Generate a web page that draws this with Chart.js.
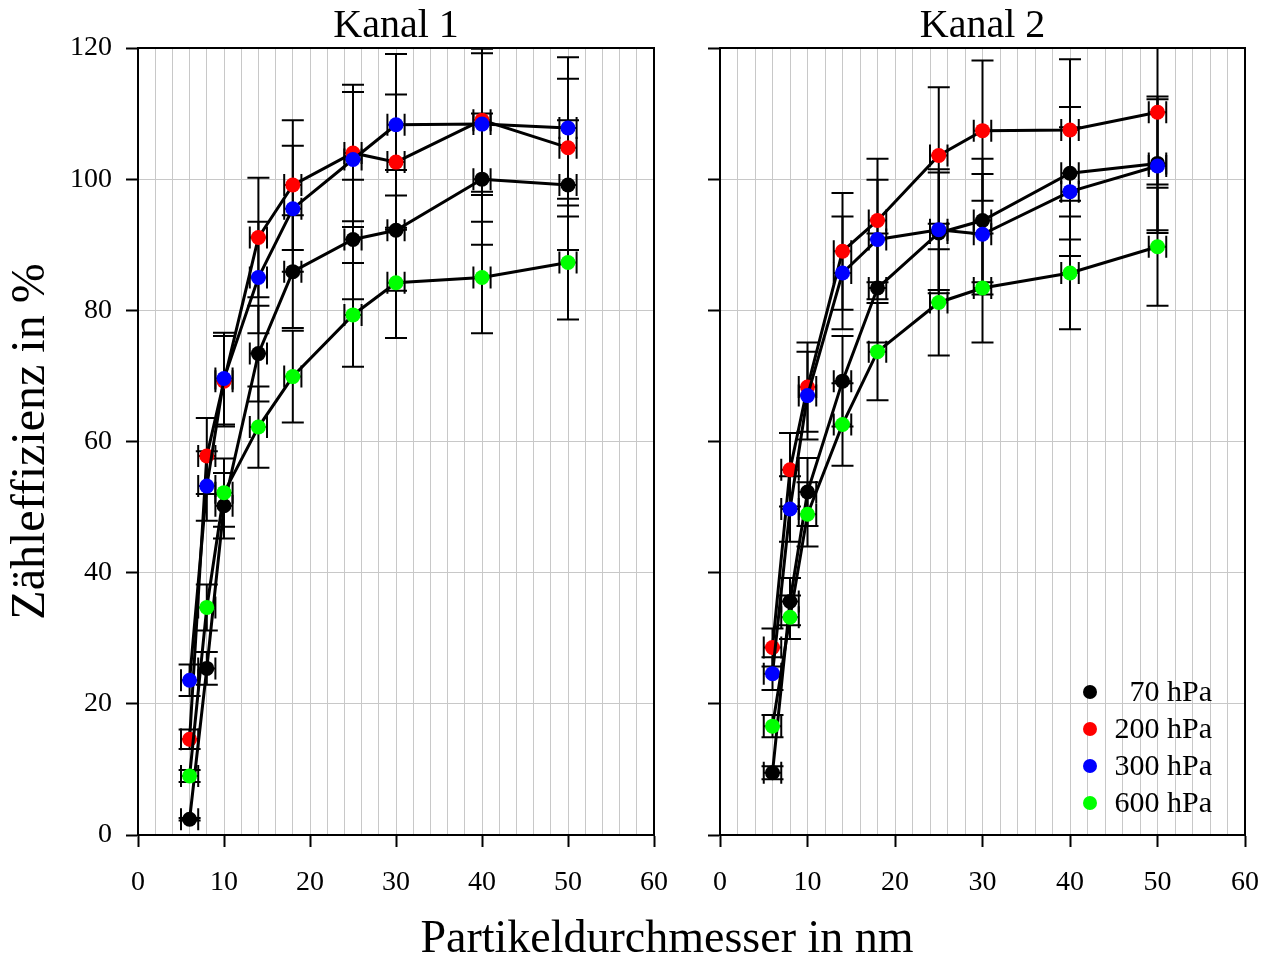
<!DOCTYPE html>
<html>
<head>
<meta charset="utf-8">
<script src="https://cdn.jsdelivr.net/npm/chart.js@4/dist/chart.umd.min.js"></script>
<style>
  body { margin: 0; background: #fff; width: 1271px; height: 960px; overflow: hidden; position: relative; }
  canvas { position: absolute; top: 0; }
  #c1 { left: 0; }
  #c2 { left: 660px; }
  #xtitle { position: absolute; left: 267px; width: 800px; top: 914px; text-align: center;
            font: 46px 'Liberation Serif', 'Times New Roman', serif; line-height: 46px; color: #000; }
</style>
</head>
<body>
<canvas id="c1" width="700" height="960"></canvas>
<canvas id="c2" width="640" height="960"></canvas>
<div id="xtitle">Partikeldurchmesser in nm</div>
<script>
// particle diameter in nm
const sizes = [6, 8, 10, 14, 18, 25, 30, 40, 50];
const sizeErr = [1, 1, 1, 1, 1, 1, 1, 1, 1];
const labels = ['70 hPa', '200 hPa', '300 hPa', '600 hPa'];
const colors = ['#000000', '#ff0000', '#0000ff', '#00ff00'];
const xTicks = [0, 10, 20, 30, 40, 50, 60];
const yTicks = [0, 20, 40, 60, 80, 100, 120];

// Kanal 1 counting efficiency in %
const k1_70 = [2.4, 25.4, 50.2, 73.4, 85.9, 90.8, 92.2, 100.0, 99.1];
const k1_200 = [14.6, 57.8, 69.2, 91.1, 99.1, 104.0, 102.6, 109.0, 104.8];
const k1_300 = [23.6, 53.2, 69.6, 85.0, 95.5, 103.0, 108.3, 108.4, 107.8];
const k1_600 = [9.0, 34.7, 52.2, 62.2, 69.9, 79.3, 84.2, 85.0, 87.3];
const k1_70err = [0.2, 2.5, 5.0, 7.3, 8.6, 9.1, 9.2, 10.0, 9.9];
const k1_200err = [1.5, 5.8, 6.9, 9.1, 9.9, 10.4, 10.3, 10.9, 10.5];
const k1_300err = [2.4, 5.3, 7.0, 8.5, 9.6, 10.3, 10.8, 10.8, 10.8];
const k1_600err = [0.9, 3.5, 5.2, 6.2, 7.0, 7.9, 8.4, 8.5, 8.7];

// Kanal 2
const k2_70 = [9.5, 35.6, 52.3, 69.2, 83.4, 91.8, 93.7, 100.9, 102.4];
const k2_200 = [28.6, 55.7, 68.3, 89.0, 93.7, 103.6, 107.4, 107.5, 110.2];
const k2_300 = [24.6, 49.7, 67.0, 85.7, 90.8, 92.3, 91.6, 98.1, 102.0];
const k2_600 = [16.6, 33.2, 48.9, 62.6, 73.7, 81.2, 83.4, 85.7, 89.7];
const k2_70err = [1.0, 3.6, 5.2, 6.9, 8.3, 9.2, 9.4, 10.1, 10.2];
const k2_200err = [2.9, 5.6, 6.8, 8.9, 9.4, 10.4, 10.7, 10.8, 11.0];
const k2_300err = [2.5, 5.0, 6.7, 8.6, 9.1, 9.2, 9.2, 9.8, 10.2];
const k2_600err = [1.7, 3.3, 4.9, 6.3, 7.4, 8.1, 8.3, 8.6, 9.0];

Chart.defaults.font.family = "'Liberation Serif', 'Times New Roman', serif";
Chart.defaults.color = '#000';

function makeDatasets(series, errs) {
    return series.map(function(vals, k) {
        return {
            label: labels[k],
            data: vals.map(function(v, i) { return {x: sizes[i], y: v}; }),
            yErr: errs[k],
            xErr: sizeErr,
            borderColor: '#000',
            borderWidth: 3,
            pointBackgroundColor: colors[k],
            pointBorderWidth: 0,
            pointRadius: 7.5,
            pointHoverRadius: 7.5,
            tension: 0,
            order: 4 - k
        };
    });
}

// error bars in both directions, drawn under the lines and points
const errorBars = {
    id: 'errorBars',
    beforeDatasetsDraw(chart) {
        const ctx = chart.ctx, a = chart.chartArea;
        const xs = chart.scales.x, ys = chart.scales.y;
        const cap = 11;
        ctx.save();
        ctx.beginPath();
        ctx.rect(a.left, a.top, a.right - a.left, a.bottom - a.top);
        ctx.clip();
        ctx.strokeStyle = '#000';
        ctx.lineWidth = 2;
        chart.data.datasets.forEach(function(ds) {
            ds.data.forEach(function(p, i) {
                const px = xs.getPixelForValue(p.x), py = ys.getPixelForValue(p.y);
                const y0 = ys.getPixelForValue(p.y - ds.yErr[i]);
                const y1 = ys.getPixelForValue(p.y + ds.yErr[i]);
                const x0 = xs.getPixelForValue(p.x - ds.xErr[i]);
                const x1 = xs.getPixelForValue(p.x + ds.xErr[i]);
                ctx.beginPath();
                ctx.moveTo(px, y0); ctx.lineTo(px, y1);
                ctx.moveTo(px - cap, y0); ctx.lineTo(px + cap, y0);
                ctx.moveTo(px - cap, y1); ctx.lineTo(px + cap, y1);
                ctx.moveTo(x0, py); ctx.lineTo(x1, py);
                ctx.moveTo(x0, py - cap); ctx.lineTo(x0, py + cap);
                ctx.moveTo(x1, py - cap); ctx.lineTo(x1, py + cap);
                ctx.stroke();
            });
        });
        ctx.restore();
    }
};

// box around the plot area
const frame = {
    id: 'frame',
    afterDatasetsDraw(chart) {
        const ctx = chart.ctx, a = chart.chartArea;
        ctx.save();
        ctx.strokeStyle = '#000';
        ctx.lineWidth = 2;
        ctx.strokeRect(a.left, a.top, a.right - a.left, a.bottom - a.top);
        ctx.restore();
    }
};

// legend inside the lower right corner
const innerLegend = {
    id: 'innerLegend',
    afterDraw(chart) {
        const ctx = chart.ctx, a = chart.chartArea;
        const n = chart.data.datasets.length;
        ctx.save();
        ctx.font = "30px 'Liberation Serif', 'Times New Roman', serif";
        ctx.textAlign = 'right';
        ctx.textBaseline = 'middle';
        chart.data.datasets.forEach(function(ds, i) {
            const yy = a.bottom - 32 - (n - 1 - i) * 37;
            ctx.fillStyle = ds.pointBackgroundColor;
            ctx.beginPath();
            ctx.arc(a.right - 155, yy, 7, 0, Math.PI * 2);
            ctx.fill();
            ctx.fillStyle = '#000';
            ctx.fillText(ds.label, a.right - 33, yy + 1);
        });
        ctx.restore();
    }
};

function makeChart(id, title, series, errs, first) {
    const plugins = [errorBars, frame];
    if (!first) plugins.push(innerLegend);
    return new Chart(document.getElementById(id), {
        type: 'line',
        data: { datasets: makeDatasets(series, errs) },
        plugins: plugins,
        options: {
            responsive: false,
            animation: false,
            devicePixelRatio: 1,
            layout: { padding: { top: 0, bottom: 0, left: 0, right: first ? 46 : 55 } },
            plugins: {
                legend: { display: false },
                tooltip: { enabled: false },
                title: {
                    display: true,
                    text: title,
                    fullSize: false,
                    font: { size: 40, weight: 'normal', lineHeight: 1.1 },
                    padding: { top: 4, bottom: 0 },
                    color: '#000'
                }
            },
            scales: {
                x: {
                    type: 'linear',
                    min: xTicks[0],
                    max: xTicks[xTicks.length - 1],
                    afterFit: function(s) { s.height = 125; },
                    border: { display: true, color: '#000', width: 2 },
                    grid: {
                        color: '#c8c8c8',
                        lineWidth: 1,
                        tickLength: 12,
                        tickWidth: 2,
                        tickColor: function(c) {
                            return xTicks.indexOf(c.tick.value) >= 0 ? '#000' : 'rgba(0,0,0,0)';
                        }
                    },
                    ticks: {
                        stepSize: 2,
                        autoSkip: false,
                        maxRotation: 0,
                        padding: 19,
                        font: { size: 28 },
                        color: '#000',
                        callback: function(v) { return xTicks.indexOf(v) >= 0 ? String(v) : ''; }
                    }
                },
                y: {
                    min: yTicks[0],
                    max: yTicks[yTicks.length - 1],
                    afterFit: function(s) { s.width = first ? 138 : 60; },
                    border: { display: true, color: '#000', width: 2 },
                    grid: { color: '#c8c8c8', lineWidth: 1, tickLength: 12, tickWidth: 2, tickColor: '#000' },
                    ticks: {
                        stepSize: 20,
                        display: first,
                        padding: 14,
                        font: { size: 28 },
                        color: '#000'
                    },
                    title: {
                        display: first,
                        text: 'Zähleffizienz in %',
                        font: { size: 48 },
                        padding: { top: 3, bottom: 0 },
                        color: '#000'
                    }
                }
            }
        }
    });
}

makeChart('c1', 'Kanal 1', [k1_70, k1_200, k1_300, k1_600], [k1_70err, k1_200err, k1_300err, k1_600err], true);
makeChart('c2', 'Kanal 2', [k2_70, k2_200, k2_300, k2_600], [k2_70err, k2_200err, k2_300err, k2_600err], false);
</script>
</body>
</html>
